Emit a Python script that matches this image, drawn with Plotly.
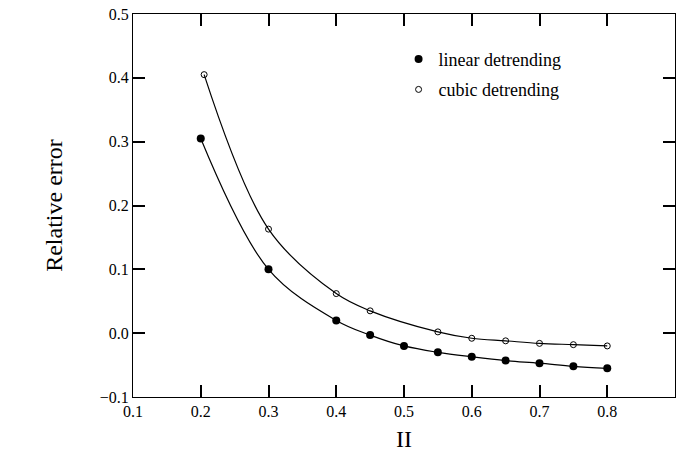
import plotly.graph_objects as go

h_linear = [0.2, 0.3, 0.4, 0.45, 0.5, 0.55, 0.6, 0.65, 0.7, 0.75, 0.8]
err_linear = [0.305, 0.100, 0.020, -0.003, -0.020, -0.030, -0.037, -0.043, -0.047, -0.052, -0.055]

h_cubic = [0.205, 0.3, 0.4, 0.45, 0.55, 0.6, 0.65, 0.7, 0.75, 0.8]
err_cubic = [0.405, 0.163, 0.062, 0.035, 0.002, -0.008, -0.012, -0.016, -0.018, -0.020]

x_ticks = [0.1, 0.2, 0.3, 0.4, 0.5, 0.6, 0.7, 0.8, 0.9]
y_ticks = [-0.1, 0.0, 0.1, 0.2, 0.3, 0.4, 0.5]

FONT = "Liberation Serif"

fig = go.Figure()
fig.add_trace(go.Scatter(x=h_linear, y=err_linear, mode="lines+markers",
                         line=dict(color="black", width=1.2, shape="spline"),
                         marker=dict(symbol="circle", size=8, color="black"),
                         showlegend=False))
fig.add_trace(go.Scatter(x=h_cubic, y=err_cubic, mode="lines+markers",
                         line=dict(color="black", width=1.2, shape="spline"),
                         marker=dict(symbol="circle-open", size=6, color="black", line=dict(width=1)),
                         showlegend=False))
fig.add_trace(go.Scatter(x=[None], y=[None], mode="markers", name="linear detrending",
                         marker=dict(symbol="circle", size=8, color="black"), legendgroup="a"))
fig.add_trace(go.Scatter(x=[None], y=[None], mode="markers", name="cubic detrending",
                         marker=dict(symbol="circle-open", size=6, color="black", line=dict(width=1)),
                         legendgroup="b"))

fig.update_xaxes(range=[0.1, 0.9], tickvals=x_ticks, ticks="inside", ticklen=12, tickwidth=2,
                 tickcolor="#000001", showline=True, linecolor="black", mirror="ticks",
                 gridcolor="white")
fig.update_yaxes(range=[-0.1, 0.5], tickvals=y_ticks, ticks="inside", ticklen=12, tickwidth=2,
                 tickcolor="#000001", showline=True, linecolor="black", mirror="ticks",
                 gridcolor="white", zerolinecolor="white")

fig.update_layout(
    width=681, height=468,
    margin=dict(l=133, r=6, t=14, b=71),
    plot_bgcolor="white", paper_bgcolor="white",
    font=dict(family=FONT, color="black", size=16),
    xaxis_tickformat=".1f", yaxis_tickformat=".1f",
    xaxis_title_text="II", yaxis_title_text="Relative error",
    xaxis_title_font_size=24, yaxis_title_font_size=24,
    xaxis_title_standoff=10, yaxis_title_standoff=30,
    legend=dict(x=0.49, y=0.93, xanchor="left", yanchor="top", bgcolor="rgba(0,0,0,0)",
                font=dict(family=FONT, size=18, color="black"), tracegroupgap=4),
)

fig.write_html("out.html")
